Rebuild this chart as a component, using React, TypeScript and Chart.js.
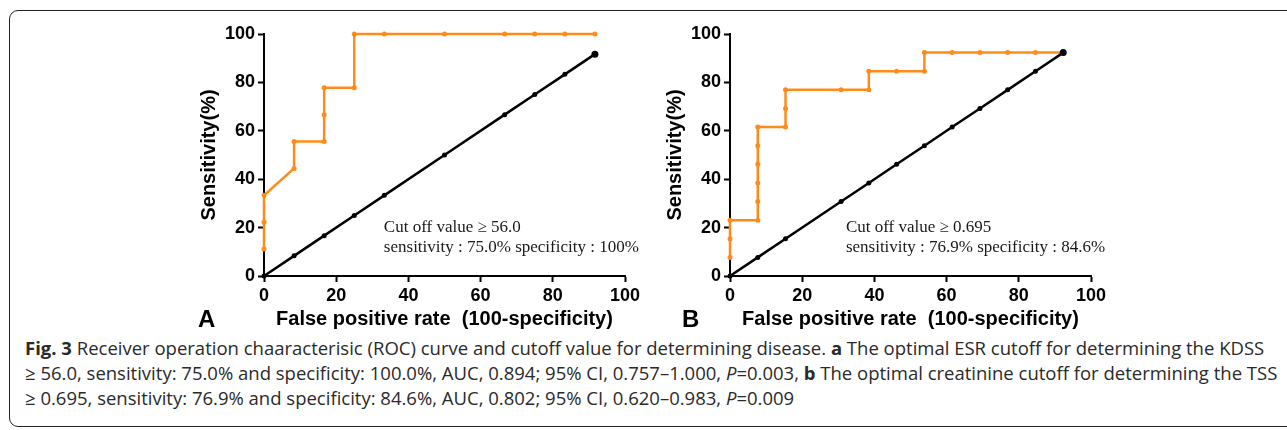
import React, { useEffect, useRef } from "react";
import { Chart, registerables } from "chart.js";

Chart.register(...registerables);

// ---- data ----
const axisTicks = [0, 20, 40, 60, 80, 100];

// Panel A (ESR / KDSS)
const rocAX = [0, 0, 0, 8.33, 8.33, 16.67, 16.67, 16.67, 25, 25, 33.33, 50, 66.67, 75, 83.33, 91.67];
const rocAY = [11.11, 22.22, 33.33, 44.44, 55.56, 55.56, 66.67, 77.78, 77.78, 100, 100, 100, 100, 100, 100, 100];
const refAX = [0, 8.33, 16.67, 25, 33.33, 50, 66.67, 75, 83.33, 91.67];

// Panel B (creatinine / TSS)
const rocBX = [0, 0, 0, 7.69, 7.69, 7.69, 7.69, 7.69, 7.69, 15.38, 15.38, 15.38, 30.77, 38.46, 38.46, 46.15, 53.85, 53.85, 61.54, 69.23, 76.92, 84.62, 92.31];
const rocBY = [7.69, 15.38, 23.08, 23.08, 30.77, 38.46, 46.15, 53.85, 61.54, 61.54, 69.23, 76.92, 76.92, 76.92, 84.62, 84.62, 84.62, 92.31, 92.31, 92.31, 92.31, 92.31, 92.31];
const refBX = [0, 7.69, 15.38, 30.77, 38.46, 46.15, 53.85, 61.54, 69.23, 76.92, 84.62, 92.31];

const annotA = ["Cut off value \u2265 56.0", "sensitivity : 75.0% specificity : 100%"];
const annotB = ["Cut off value \u2265 0.695", "sensitivity : 76.9% specificity : 84.6%"];

const xTitle = "False positive rate  (100-specificity)";
const yTitle = "Sensitivity(%)";

const ORANGE = "#FF8C1A";
const CW = 460;
const CH = 320;

type PanelProps = {
  left: number;
  rocX: number[];
  rocY: number[];
  refX: number[];
  annot: string[];
  annotX: number;
  annotY: number;
};

function Panel({ left, rocX, rocY, refX, annot, annotX, annotY }: PanelProps) {
  const ref = useRef<HTMLCanvasElement | null>(null);
  useEffect(() => {
    if (!ref.current) return;
    const textPlugin = {
      id: "annotText",
      afterDatasetsDraw(chart: any) {
        const { ctx, scales } = chart;
        const px = scales.x.getPixelForValue(annotX);
        const py = scales.y.getPixelForValue(annotY);
        ctx.save();
        ctx.font = '17px "Liberation Serif"';
        ctx.fillStyle = "#1a1a1a";
        ctx.textBaseline = "alphabetic";
        ctx.textAlign = "left";
        annot.forEach((t, i) => ctx.fillText(t, px, py + i * 20));
        ctx.restore();
      },
    };
    const setTicks = (s: any) => {
      s.ticks = axisTicks.map((v) => ({ value: v }));
    };
    const commonGrid = {
      display: true,
      drawOnChartArea: false,
      drawTicks: true,
      tickLength: 6,
      tickWidth: 2,
      tickColor: "#000",
      color: "#000",
    };
    const tickFont = { family: "'Liberation Sans', Arial", size: 18, weight: "bold" as const };
    const titleFont = { family: "'Liberation Sans', Arial", size: 20, weight: "bold" as const, lineHeight: 1.2 };
    const chart = new Chart(ref.current, {
      type: "scatter",
      data: {
        datasets: [
          {
            data: refX.map((v) => ({ x: v, y: v })),
            showLine: true,
            borderColor: "#000",
            backgroundColor: "#000",
            borderWidth: 2.5,
            pointRadius: (c: any) => (c.dataIndex === refX.length - 1 ? 3.5 : 2.5),
            pointBorderWidth: 0,
            clip: false,
          },
          {
            data: rocX.map((v, i) => ({ x: v, y: rocY[i] })),
            showLine: true,
            borderColor: ORANGE,
            backgroundColor: ORANGE,
            borderWidth: 2.5,
            pointRadius: 2.5,
            pointBorderWidth: 0,
            clip: false,
          },
        ] as any,
      },
      options: {
        animation: false,
        responsive: false,
        devicePixelRatio: 1,
        layout: { padding: { top: 20, right: 25, bottom: 0, left: 0 } },
        plugins: { legend: { display: false }, tooltip: { enabled: false } },
        scales: {
          x: {
            type: "linear",
            min: 0,
            max: 100,
            afterBuildTicks: setTicks,
            afterFit: (s: any) => {
              s.height = 58;
            },
            grid: commonGrid,
            border: { display: true, color: "#000", width: 2 },
            ticks: { color: "#000", font: tickFont, padding: 3, maxRotation: 0 },
            title: { display: true, text: xTitle, color: "#000", font: titleFont, padding: { top: 0, bottom: 3 } },
          },
          y: {
            type: "linear",
            min: 0,
            max: 100,
            afterBuildTicks: setTicks,
            afterFit: (s: any) => {
              s.width = 74;
            },
            grid: commonGrid,
            border: { display: true, color: "#000", width: 2 },
            ticks: { color: "#000", font: tickFont, padding: 3 },
            title: { display: true, text: yTitle, color: "#000", font: titleFont, padding: { top: 7, bottom: 0 } },
          },
        },
      } as any,
      plugins: [textPlugin],
    });
    return () => chart.destroy();
  }, []);
  return (
    <canvas
      ref={ref}
      width={CW}
      height={CH}
      style={{ position: "absolute", left, top: 14, width: CW, height: CH }}
    />
  );
}

const panelLabel: React.CSSProperties = {
  position: "absolute",
  top: 307,
  fontFamily: "'Liberation Sans', Arial, sans-serif",
  fontWeight: "bold",
  fontSize: 24,
  lineHeight: "24px",
  color: "#000",
};

const captionLine: React.CSSProperties = {
  position: "absolute",
  left: 25,
  whiteSpace: "nowrap",
  fontFamily: "'Open Sans', sans-serif",
  fontSize: 18.5,
  lineHeight: "25px",
  color: "#2a2a2a",
};

export default function App() {
  return (
    <div
      style={{
        position: "absolute",
        left: 0,
        top: 0,
        width: 1287,
        height: 430,
        overflow: "hidden",
        background: "#fff",
      }}
    >
      <div
        style={{
          position: "absolute",
          left: 9,
          top: 10,
          width: 1300,
          height: 417,
          border: "1.5px solid #222",
          borderRadius: 9,
          boxSizing: "border-box",
        }}
      />
      <Panel left={190} rocX={rocAX} rocY={rocAY} refX={refAX} annot={annotA} annotX={33.2} annotY={18.2} />
      <Panel left={656} rocX={rocBX} rocY={rocBY} refX={refBX} annot={annotB} annotX={32.1} annotY={18.2} />
      <div style={{ ...panelLabel, left: 198 }}>A</div>
      <div style={{ ...panelLabel, left: 682 }}>B</div>
      <div style={{ ...captionLine, top: 335 }}>
        <b>Fig. 3</b> Receiver operation chaaracterisic (ROC) curve and cutoff value for determining disease. <b>a</b> The
        optimal ESR cutoff for determining the KDSS
      </div>
      <div style={{ ...captionLine, top: 360 }}>
        ≥ 56.0, sensitivity: 75.0% and specificity: 100.0%, AUC, 0.894; 95% CI, 0.757–1.000, <i>P</i>=0.003, <b>b</b>{" "}
        The optimal creatinine cutoff for determining the TSS
      </div>
      <div style={{ ...captionLine, top: 385 }}>
        ≥ 0.695, sensitivity: 76.9% and specificity: 84.6%, AUC, 0.802; 95% CI, 0.620–0.983, <i>P</i>=0.009
      </div>
    </div>
  );
}
